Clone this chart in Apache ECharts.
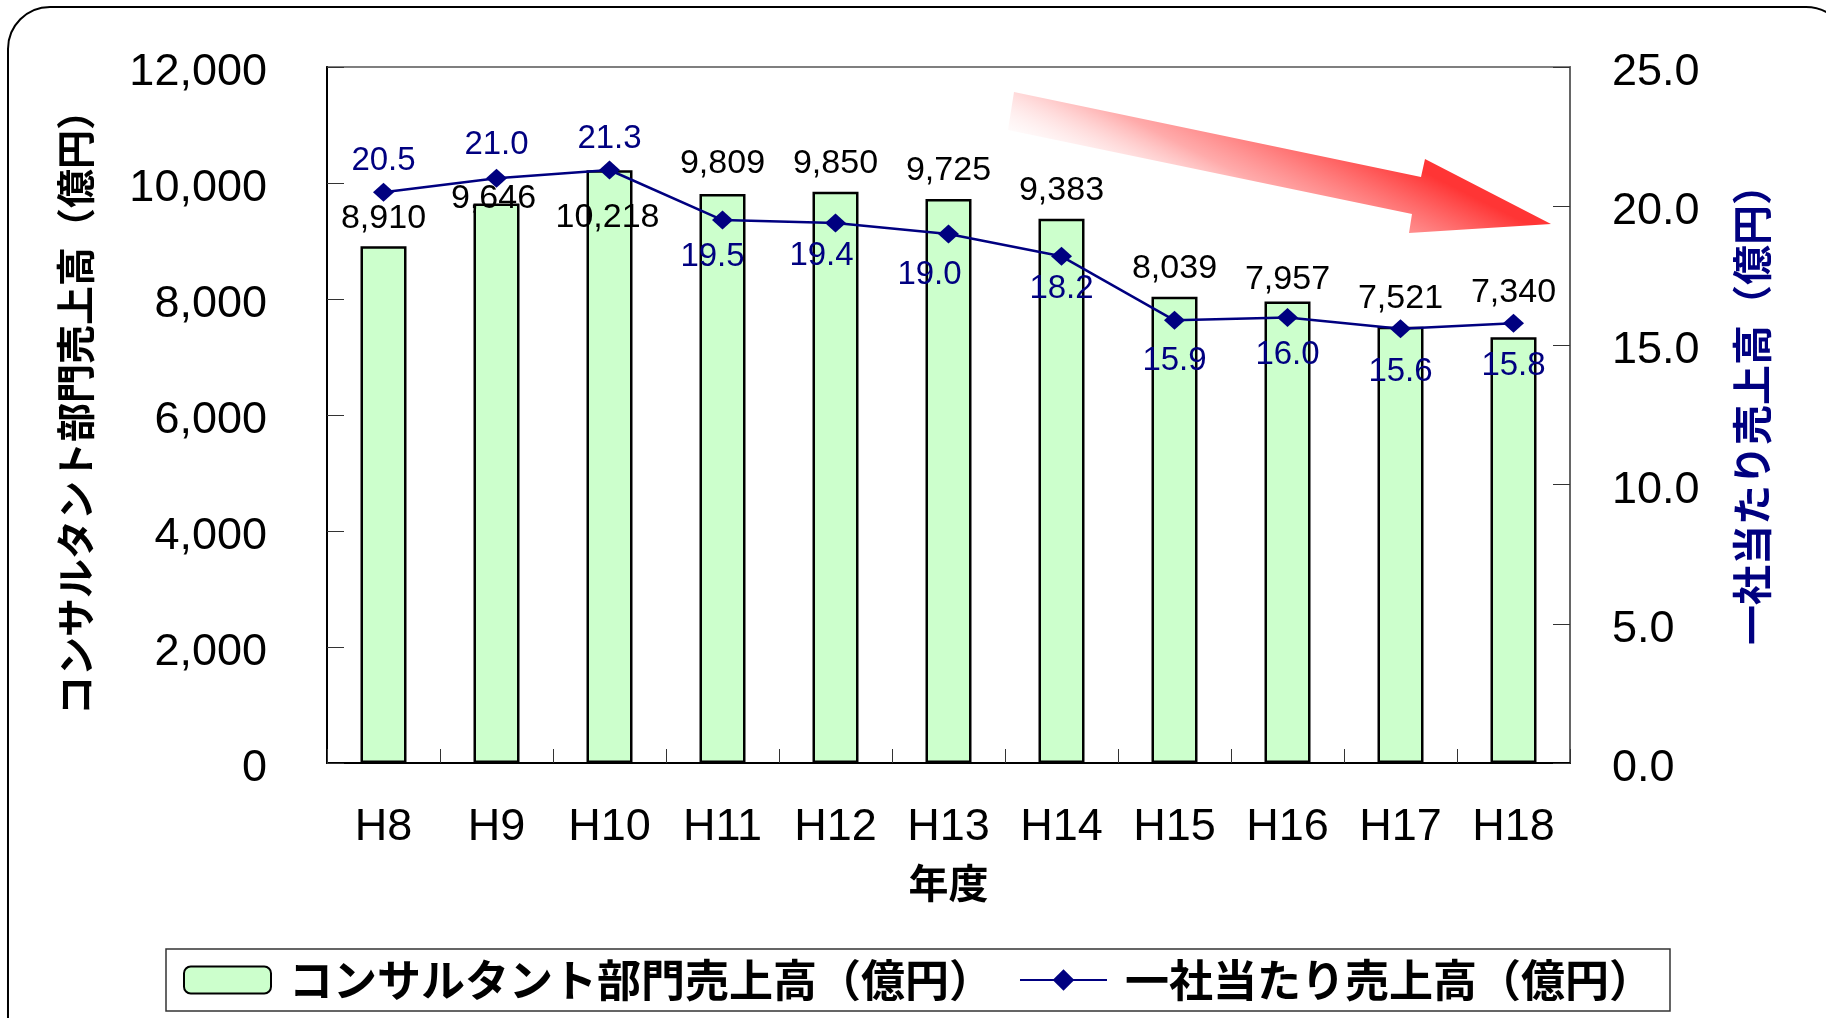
<!DOCTYPE html>
<html>
<head>
<meta charset="utf-8">
<title>コンサルタント部門売上高の推移</title>
<script src="https://cdn.jsdelivr.net/npm/echarts@6/dist/echarts.min.js"></script>
<style>
  html, body { margin: 0; padding: 0; background: #ffffff; }
  #chart { width: 1826px; height: 1018px; }
</style>
</head>
<body>
<div id="chart"></div>
<script>
// 年度（平成）
const years = ['H8', 'H9', 'H10', 'H11', 'H12', 'H13', 'H14', 'H15', 'H16', 'H17', 'H18'];
// コンサルタント部門売上高（億円）
const deptSales = [8910, 9646, 10218, 9809, 9850, 9725, 9383, 8039, 7957, 7521, 7340];
// 一社当たり売上高（億円）
const perCompany = [20.5, 21.0, 21.3, 19.5, 19.4, 19.0, 18.2, 15.9, 16.0, 15.6, 15.8];

const barName = 'コンサルタント部門売上高（億円）';
const lineName = '一社当たり売上高（億円）';

// label nudges so the numbers stay clear of the line
const barLabelNudge = [[0, 0], [-3, 23], [-2, 75], [0, -2], [0, 0], [0, 0], [0, 0], [0, 0], [0, 6], [0, 0], [0, -17]];
const lineLabelBelow = [false, false, false, true, true, true, true, true, true, true, true];
const lineLabelNudge = [[0, 0], [0, -2], [0, 0], [-10, -2], [-14, -6], [-19, 2], [0, -6], [0, 2], [0, -2], [0, 4], [0, 4]];

const NUM_FONT = '"Liberation Sans", Arial, sans-serif';
const JP_FONT = '"Noto Sans CJK JP", sans-serif';
const NAVY = '#000080';

// tick labels sit a little below their tick
const tickRich = { t: { fontFamily: NUM_FONT, fontSize: 45, color: '#000000', padding: [11, 0, 0, 0] } };

const chart = echarts.init(document.getElementById('chart'));

const barData = deptSales.map((v, i) => ({
  value: v,
  label: { offset: barLabelNudge[i] }
}));

const lineData = perCompany.map((v, i) => ({
  value: v,
  label: {
    position: lineLabelBelow[i] ? 'bottom' : 'top',
    distance: lineLabelBelow[i] ? 13 : 5,
    offset: lineLabelNudge[i]
  }
}));

chart.setOption({
  backgroundColor: '#ffffff',
  animation: false,
  grid: {
    left: 327, right: 256, top: 67, bottom: 255,
    show: true,
    borderColor: '#7f7f7f',
    borderWidth: 2,
    backgroundColor: '#ffffff'
  },
  legend: {
    left: 166,
    top: 949,
    padding: [9, 17, 9, 17],
    borderColor: '#333333',
    borderWidth: 1.5,
    itemWidth: 87,
    itemHeight: 27,
    itemGap: 26,
    textStyle: {
      fontFamily: JP_FONT,
      fontSize: 44,
      fontWeight: 'bold',
      color: '#000000',
      padding: [0, 0, 0, 13]
    },
    data: [barName, lineName]
  },
  xAxis: {
    type: 'category',
    data: years,
    name: '年度',
    nameLocation: 'middle',
    nameGap: 100,
    nameTextStyle: { fontFamily: JP_FONT, fontSize: 40, fontWeight: 'bold', color: '#000000' },
    axisLine: { lineStyle: { color: '#000000', width: 2 } },
    axisTick: { show: true, inside: true, length: 14, lineStyle: { color: '#333333', width: 1 } },
    axisLabel: { margin: 42, fontFamily: NUM_FONT, fontSize: 45, color: '#000000' },
    splitLine: { show: false }
  },
  yAxis: [
    {
      type: 'value',
      min: 0, max: 12000, interval: 2000,
      name: 'コンサルタント部門売上高（億円）',
      nameLocation: 'middle',
      nameRotate: 90,
      nameGap: 232,
      nameTextStyle: { fontFamily: JP_FONT, fontSize: 39, fontWeight: 'bold', color: '#000000', padding: [0, 0, 0, 24] },
      axisLine: { show: true, lineStyle: { color: '#000000', width: 2 } },
      axisTick: { show: true, inside: true, length: 17, lineStyle: { color: '#333333', width: 1 } },
      axisLabel: {
        margin: 60,
        rich: tickRich,
        formatter: v => '{t|' + v.toLocaleString('en-US') + '}'
      },
      splitLine: { show: false }
    },
    {
      type: 'value',
      min: 0, max: 25, interval: 5,
      position: 'right',
      name: '一社当たり売上高（億円）',
      nameLocation: 'middle',
      nameRotate: 90,
      nameGap: 162,
      nameTextStyle: { fontFamily: JP_FONT, fontSize: 40, fontWeight: 'bold', color: NAVY, padding: [0, 0, 0, 20] },
      axisLine: { show: true, lineStyle: { color: '#666666', width: 2 } },
      axisTick: { show: true, inside: true, length: 17, lineStyle: { color: '#333333', width: 1 } },
      axisLabel: {
        margin: 42,
        rich: tickRich,
        formatter: v => '{t|' + v.toFixed(1) + '}'
      },
      splitLine: { show: false }
    }
  ],
  series: [
    {
      name: barName,
      type: 'bar',
      yAxisIndex: 0,
      data: barData,
      barWidth: 46,
      itemStyle: { color: '#ccffcc', borderColor: '#000000', borderWidth: 2.5 },
      label: {
        show: true,
        position: 'top',
        distance: 11,
        fontFamily: NUM_FONT,
        fontSize: 34,
        color: '#000000',
        formatter: p => p.value.toLocaleString('en-US')
      },
      z: 2
    },
    {
      name: lineName,
      type: 'line',
      yAxisIndex: 1,
      data: lineData,
      symbol: 'diamond',
      symbolSize: [21, 19],
      lineStyle: { color: NAVY, width: 2.5 },
      itemStyle: { color: NAVY },
      label: {
        show: true,
        fontFamily: NUM_FONT,
        fontSize: 33,
        color: NAVY,
        formatter: p => p.value.toFixed(1)
      },
      z: 3
    }
  ],
  graphic: [
    {
      // rounded outer frame
      type: 'rect',
      z: 0,
      silent: true,
      shape: { x: 8, y: 7, width: 1840, height: 1100, r: 42 },
      style: { fill: null, stroke: '#000000', lineWidth: 2 }
    },
    {
      // downward trend arrow
      type: 'polygon',
      z: 10,
      silent: true,
      shape: {
        points: [[1014, 92], [1421, 177], [1425, 159], [1551, 224], [1409, 233], [1412, 214], [1008, 130]]
      },
      style: {
        fill: {
          type: 'linear',
          global: true,
          x: 1005, y: 150, x2: 1080, y2: 0,
          colorStops: [
            { offset: 0, color: 'rgba(255,255,255,0)' },
            { offset: 0.5, color: 'rgba(255,150,150,0.8)' },
            { offset: 1, color: '#ff3535' }
          ]
        },
        stroke: null
      }
    }
  ]
});
</script>
</body>
</html>
